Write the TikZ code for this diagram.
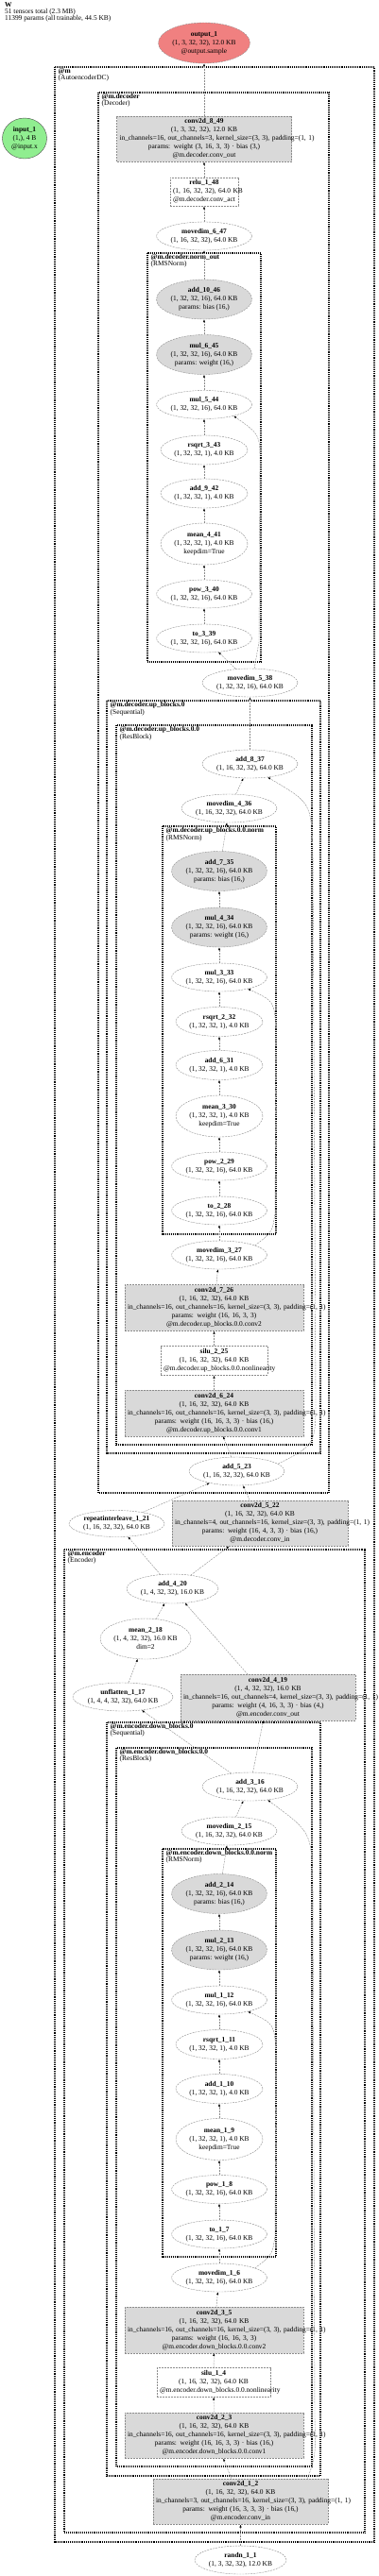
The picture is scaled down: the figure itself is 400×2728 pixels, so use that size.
\documentclass[tikz,border=0pt]{standalone}
\usepackage{fontspec}
\setmainfont{Liberation Serif}
\usepackage{tikz}
\usetikzlibrary{arrows.meta,shapes.geometric}

\definecolor{pgray}{HTML}{D9D9D9}
\definecolor{edgegray}{HTML}{8C8C8C}
\definecolor{outred}{HTML}{F08080}
\definecolor{ingreen}{HTML}{90EE90}

\begin{document}
\begin{tikzpicture}[x=1pt, y=-1pt,
  font=\fontsize{7.4}{9}\selectfont,
  cluster/.style={draw, line width=1.1pt, dash pattern=on 1pt off 0.9pt},
  clabel/.style={anchor=north west, inner sep=0pt, align=left, font=\fontsize{7.4}{6.6}\selectfont},
  op/.style={ellipse, draw=edgegray, dash pattern=on 2pt off 1pt, fill=white, inner sep=0pt, align=center, minimum width=101pt, minimum height=30pt},
  smallop/.style={op, minimum width=92pt, minimum height=31pt},
  meanop/.style={smallop, minimum height=44pt},
  paramop/.style={op, fill=pgray, minimum height=42pt},
  layer/.style={rectangle, draw=edgegray, dash pattern=on 2pt off 1pt, fill=pgray, inner sep=3pt, align=center, text width=179pt, minimum height=48pt},
  actbox/.style={layer, fill=white, minimum height=30pt},
  flow/.style={draw=edgegray, dash pattern=on 2pt off 1pt, -{Latex[color=black, length=3pt, width=2.2pt]}}
]
\useasboundingbox (0,0) rectangle (400,2728);

% header
\node[clabel] (hdr) at (5,2.5) {\textbf{W}\\51 tensors total (2.3 MB)\\11399 params (all trainable, 44.5 KB)};

% clusters
\draw[cluster] (58,71) rectangle (396,2692);
\node[clabel] (cm) at (61.5,72.5) {\textbf{@m}\\(AutoencoderDC)};
\draw[cluster] (104,98) rectangle (348,1581);
\node[clabel] (cdec) at (107.5,99.5) {\textbf{@m.decoder}\\(Decoder)};
\draw[cluster] (156,268) rectangle (276,701);
\node[clabel] (cdnorm) at (159.5,269.5) {\textbf{@m.decoder.norm\_out}\\(RMSNorm)};
\draw[cluster] (113,742) rectangle (339,1539);
\node[clabel] (cup) at (116.5,743.5) {\textbf{@m.decoder.up\_blocks.0}\\(Sequential)};
\draw[cluster] (123,768) rectangle (330,1530);
\node[clabel] (cupres) at (126.5,769.5) {\textbf{@m.decoder.up\_blocks.0.0}\\(ResBlock)};
\draw[cluster] (172,875) rectangle (292,1307);
\node[clabel] (cupnorm) at (175.5,876.5) {\textbf{@m.decoder.up\_blocks.0.0.norm}\\(RMSNorm)};
\draw[cluster] (68,1641) rectangle (386,2682);
\node[clabel] (cenc) at (71.5,1642.5) {\textbf{@m.encoder}\\(Encoder)};
\draw[cluster] (113,1824) rectangle (339,2622);
\node[clabel] (cdown) at (116.5,1825.5) {\textbf{@m.encoder.down\_blocks.0}\\(Sequential)};
\draw[cluster] (123,1851) rectangle (330,2612);
\node[clabel] (cdownres) at (126.5,1852.5) {\textbf{@m.encoder.down\_blocks.0.0}\\(ResBlock)};
\draw[cluster] (172,1958) rectangle (292,2390);
\node[clabel] (cdownnorm) at (175.5,1959.5) {\textbf{@m.encoder.down\_blocks.0.0.norm}\\(RMSNorm)};

% input / output
\node[op, fill=outred, minimum width=97pt, minimum height=43pt] (output1) at (216,45.5) {\textbf{output\_1}\\(1, 3, 32, 32), 12.0 KB\\@output.sample};
\node[op, solid, draw=black!70, fill=ingreen, minimum width=47pt, minimum height=43pt] (input1) at (26,146.5) {\textbf{input\_1}\\(1,), 4 B\\@input.x};

% decoder
\node[layer] (conv8) at (216,147) {\textbf{conv2d\_8\_49}\\(1, 3, 32, 32), 12.0 KB\\\mbox{in\_channels=16, out\_channels=3, kernel\_size=(3, 3), padding=(1, 1)}\\params: weight (3, 16, 3, 3) · bias (3,)\\@m.decoder.conv\_out};
\node[actbox, text width=66pt] (relu1) at (216,203) {\textbf{relu\_1\_48}\\\mbox{(1, 16, 32, 32), 64.0 KB}\\\mbox{@m.decoder.conv\_act}};
\node[op] (md6) at (216,250) {\textbf{movedim\_6\_47}\\(1, 16, 32, 32), 64.0 KB};
\node[paramop] (add10) at (216,317) {\textbf{add\_10\_46}\\(1, 32, 32, 16), 64.0 KB\\params: bias (16,)};
\node[paramop] (mul6) at (216,375.5) {\textbf{mul\_6\_45}\\(1, 32, 32, 16), 64.0 KB\\params: weight (16,)};
\node[op] (mul5) at (216,428.5) {\textbf{mul\_5\_44}\\(1, 32, 32, 16), 64.0 KB};
\node[smallop] (rsq3) at (216,476.5) {\textbf{rsqrt\_3\_43}\\(1, 32, 32, 1), 4.0 KB};
\node[smallop] (add9) at (216,522.5) {\textbf{add\_9\_42}\\(1, 32, 32, 1), 4.0 KB};
\node[meanop] (mean4) at (216,576) {\textbf{mean\_4\_41}\\(1, 32, 32, 1), 4.0 KB\\keepdim=True};
\node[op] (pow3) at (216,629) {\textbf{pow\_3\_40}\\(1, 32, 32, 16), 64.0 KB};
\node[op] (to3) at (216,676) {\textbf{to\_3\_39}\\(1, 32, 32, 16), 64.0 KB};
\node[op] (md5) at (264.5,723) {\textbf{movedim\_5\_38}\\(1, 32, 32, 16), 64.0 KB};
\node[op] (add8) at (264.5,809) {\textbf{add\_8\_37}\\(1, 16, 32, 32), 64.0 KB};
\node[op] (md4) at (242.5,856) {\textbf{movedim\_4\_36}\\(1, 16, 32, 32), 64.0 KB};
\node[paramop] (add7) at (232,922.5) {\textbf{add\_7\_35}\\(1, 32, 32, 16), 64.0 KB\\params: bias (16,)};
\node[paramop] (mul4) at (232,982) {\textbf{mul\_4\_34}\\(1, 32, 32, 16), 64.0 KB\\params: weight (16,)};
\node[op] (mul3) at (232,1035) {\textbf{mul\_3\_33}\\(1, 32, 32, 16), 64.0 KB};
\node[smallop] (rsq2) at (232,1082) {\textbf{rsqrt\_2\_32}\\(1, 32, 32, 1), 4.0 KB};
\node[smallop] (add6) at (232,1128) {\textbf{add\_6\_31}\\(1, 32, 32, 1), 4.0 KB};
\node[meanop] (mean3) at (232,1182) {\textbf{mean\_3\_30}\\(1, 32, 32, 1), 4.0 KB\\keepdim=True};
\node[op] (pow2) at (232,1235) {\textbf{pow\_2\_29}\\(1, 32, 32, 16), 64.0 KB};
\node[op] (to2) at (232,1282) {\textbf{to\_2\_28}\\(1, 32, 32, 16), 64.0 KB};
\node[op] (md3) at (232,1329) {\textbf{movedim\_3\_27}\\(1, 32, 32, 16), 64.0 KB};
\node[layer, text width=183pt] (conv7) at (226.5,1385) {\textbf{conv2d\_7\_26}\\(1, 16, 32, 32), 64.0 KB\\\mbox{in\_channels=16, out\_channels=16, kernel\_size=(3, 3), padding=(1, 1)}\\params: weight (16, 16, 3, 3)\\@m.decoder.up\_blocks.0.0.conv2};
\node[actbox, text width=107pt] (silu2) at (226.5,1441) {\textbf{silu\_2\_25}\\(1, 16, 32, 32), 64.0 KB\\\mbox{@m.decoder.up\_blocks.0.0.nonlinearity}};
\node[layer, text width=183pt] (conv6) at (226.5,1496.5) {\textbf{conv2d\_6\_24}\\(1, 16, 32, 32), 64.0 KB\\\mbox{in\_channels=16, out\_channels=16, kernel\_size=(3, 3), padding=(1, 1)}\\params: weight (16, 16, 3, 3) · bias (16,)\\@m.decoder.up\_blocks.0.0.conv1};
\node[op] (add5) at (250.5,1558) {\textbf{add\_5\_23}\\(1, 16, 32, 32), 64.0 KB};
\node[op, minimum height=28pt] (rep1) at (123.5,1613.5) {\textbf{repeatinterleave\_1\_21}\\(1, 16, 32, 32), 64.0 KB};
\node[layer, text width=180pt] (conv5) at (275,1613) {\textbf{conv2d\_5\_22}\\(1, 16, 32, 32), 64.0 KB\\\mbox{in\_channels=4, out\_channels=16, kernel\_size=(3, 3), padding=(1, 1)}\\params: weight (16, 4, 3, 3) · bias (16,)\\@m.decoder.conv\_in};

% encoder
\node[op, minimum width=97pt, minimum height=31pt] (add4) at (182.5,1682.5) {\textbf{add\_4\_20}\\(1, 4, 32, 32), 16.0 KB};
\node[op, minimum width=96pt, minimum height=43pt] (mean2) at (154,1735.5) {\textbf{mean\_2\_18}\\(1, 4, 32, 32), 16.0 KB\\dim=2};
\node[op, minimum width=106pt] (unfl1) at (130,1797) {\textbf{unflatten\_1\_17}\\(1, 4, 4, 32, 32), 64.0 KB};
\node[layer] (conv4) at (283.5,1797.5) {\textbf{conv2d\_4\_19}\\(1, 4, 32, 32), 16.0 KB\\\mbox{in\_channels=16, out\_channels=4, kernel\_size=(3, 3), padding=(1, 1)}\\params: weight (4, 16, 3, 3) · bias (4,)\\@m.encoder.conv\_out};
\node[op] (add3) at (264.5,1892) {\textbf{add\_3\_16}\\(1, 16, 32, 32), 64.0 KB};
\node[op] (md2) at (242.5,1939) {\textbf{movedim\_2\_15}\\(1, 16, 32, 32), 64.0 KB};
\node[paramop] (add2) at (232,2005.5) {\textbf{add\_2\_14}\\(1, 32, 32, 16), 64.0 KB\\params: bias (16,)};
\node[paramop] (mul2) at (232,2065) {\textbf{mul\_2\_13}\\(1, 32, 32, 16), 64.0 KB\\params: weight (16,)};
\node[op] (mul1) at (232,2118) {\textbf{mul\_1\_12}\\(1, 32, 32, 16), 64.0 KB};
\node[smallop] (rsq1) at (232,2165) {\textbf{rsqrt\_1\_11}\\(1, 32, 32, 1), 4.0 KB};
\node[smallop] (add1) at (232,2212) {\textbf{add\_1\_10}\\(1, 32, 32, 1), 4.0 KB};
\node[meanop] (mean1) at (232,2265.5) {\textbf{mean\_1\_9}\\(1, 32, 32, 1), 4.0 KB\\keepdim=True};
\node[op] (pow1) at (232,2318.5) {\textbf{pow\_1\_8}\\(1, 32, 32, 16), 64.0 KB};
\node[op] (to1) at (232,2366) {\textbf{to\_1\_7}\\(1, 32, 32, 16), 64.0 KB};
\node[op] (md1) at (232,2412) {\textbf{movedim\_1\_6}\\(1, 32, 32, 16), 64.0 KB};
\node[layer, text width=183pt] (conv3) at (226.5,2467.5) {\textbf{conv2d\_3\_5}\\(1, 16, 32, 32), 64.0 KB\\\mbox{in\_channels=16, out\_channels=16, kernel\_size=(3, 3), padding=(1, 1)}\\params: weight (16, 16, 3, 3)\\@m.encoder.down\_blocks.0.0.conv2};
\node[actbox, text width=114pt] (silu1) at (226,2523) {\textbf{silu\_1\_4}\\(1, 16, 32, 32), 64.0 KB\\\mbox{@m.encoder.down\_blocks.0.0.nonlinearity}};
\node[layer, text width=183pt] (conv2) at (226.5,2579) {\textbf{conv2d\_2\_3}\\(1, 16, 32, 32), 64.0 KB\\\mbox{in\_channels=16, out\_channels=16, kernel\_size=(3, 3), padding=(1, 1)}\\params: weight (16, 16, 3, 3) · bias (16,)\\@m.encoder.down\_blocks.0.0.conv1};
\node[layer] (conv1) at (254.5,2649) {\textbf{conv2d\_1\_2}\\(1, 16, 32, 32), 64.0 KB\\\mbox{in\_channels=3, out\_channels=16, kernel\_size=(3, 3), padding=(1, 1)}\\params: weight (16, 3, 3, 3) · bias (16,)\\@m.encoder.conv\_in};
\node[op, minimum width=97pt] (randn1) at (254.5,2711) {\textbf{randn\_1\_1}\\(1, 3, 32, 32), 12.0 KB};

% encoder edges
\draw[flow] (randn1) -- (conv1);
\draw[flow] (conv1) -- (conv2);
\draw[flow] (conv2) -- (silu1);
\draw[flow] (silu1) -- (conv3);
\draw[flow] (conv3) -- (md1);
\draw[flow] (md1) -- (to1);
\draw[flow] (to1) -- (pow1);
\draw[flow] (pow1) -- (mean1);
\draw[flow] (mean1) -- (add1);
\draw[flow] (add1) -- (rsq1);
\draw[flow] (rsq1) -- (mul1);
\draw[flow] (mul1) -- (mul2);
\draw[flow] (mul2) -- (add2);
\draw[flow] (add2) -- (md2);
\draw[flow] (md2) -- (add3);
\draw[flow] (md1.15) .. controls (288,2388) .. (291,2368) -- (292,2173) .. controls (290,2143) .. (mul1.-22);
\draw[flow] (conv1.19) .. controls (334,2600) .. (333,2560) -- (331,1990) .. controls (329,1940) .. (add3.-37);
\draw[flow] (add3) -- (unfl1);
\draw[flow] (add3) -- (conv4);
\draw[flow] (unfl1) -- (mean2);
\draw[flow] (mean2) -- (add4);
\draw[flow] (conv4) -- (add4);
\draw[flow] (add4) -- (rep1);
\draw[flow] (add4) -- (conv5);

% decoder edges
\draw[flow] (rep1) -- (add5);
\draw[flow] (conv5) -- (add5);
\draw[flow] (add5) -- (conv6);
\draw[flow] (conv6) -- (silu2);
\draw[flow] (silu2) -- (conv7);
\draw[flow] (conv7) -- (md3);
\draw[flow] (md3) -- (to2);
\draw[flow] (to2) -- (pow2);
\draw[flow] (pow2) -- (mean3);
\draw[flow] (mean3) -- (add6);
\draw[flow] (add6) -- (rsq2);
\draw[flow] (rsq2) -- (mul3);
\draw[flow] (mul3) -- (mul4);
\draw[flow] (mul4) -- (add7);
\draw[flow] (add7) -- (md4);
\draw[flow] (md4) -- (add8);
\draw[flow] (md3.15) .. controls (288,1305) .. (291,1285) -- (292,1090) .. controls (290,1060) .. (mul3.-22);
\draw[flow] (add5.10) .. controls (334,1530) .. (334,1480) -- (331,900) .. controls (329,850) .. (add8.-37);
\draw[flow] (add8) -- (md5);
\draw[flow] (md5) -- (to3);
\draw[flow] (md5.73) .. controls (271,697) .. (274,680) -- (275,490) .. controls (275,460) .. (mul5.-21);
\draw[flow] (to3) -- (pow3);
\draw[flow] (pow3) -- (mean4);
\draw[flow] (mean4) -- (add9);
\draw[flow] (add9) -- (rsq3);
\draw[flow] (rsq3) -- (mul5);
\draw[flow] (mul5) -- (mul6);
\draw[flow] (mul6) -- (add10);
\draw[flow] (add10) -- (md6);
\draw[flow] (md6) -- (relu1);
\draw[flow] (relu1) -- (conv8);
\draw[flow] (conv8) -- (output1);
\end{tikzpicture}
\end{document}
